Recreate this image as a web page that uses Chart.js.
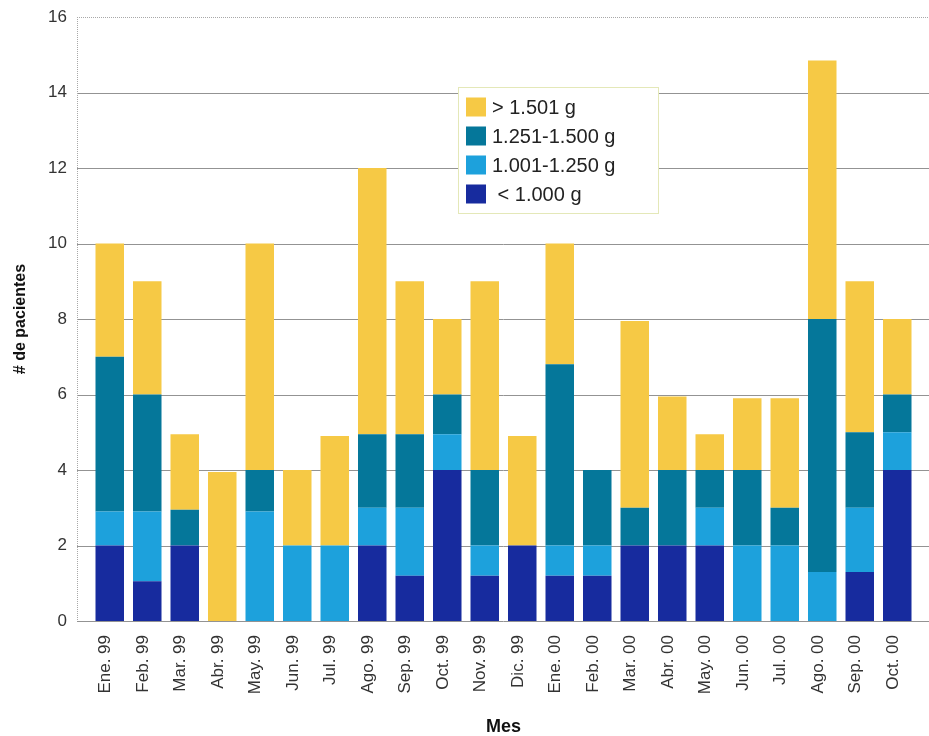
<!DOCTYPE html>
<html lang="es">
<head>
<meta charset="utf-8">
<title>Pacientes por mes</title>
<script src="https://cdn.jsdelivr.net/npm/chart.js@4.4.1/dist/chart.umd.min.js"></script>
<style>
  html, body { margin: 0; padding: 0; background: #fff; }
  #grafico { display: block; }
</style>
</head>
<body>
<canvas id="grafico" width="929" height="736"></canvas>
<script>
// Meses del periodo
const meses = ['Ene. 99', 'Feb. 99', 'Mar. 99', 'Abr. 99', 'May. 99', 'Jun. 99', 'Jul. 99',
    'Ago. 99', 'Sep. 99', 'Oct. 99', 'Nov. 99', 'Dic. 99', 'Ene. 00', 'Feb. 00', 'Mar. 00',
    'Abr. 00', 'May. 00', 'Jun. 00', 'Jul. 00', 'Ago. 00', 'Sep. 00', 'Oct. 00'];

// Pacientes por grupo de peso al nacer
const menos1000 = [2, 1.05, 2, 0, 0, 0, 0, 2, 1.2, 4, 1.2, 2, 1.2, 1.2, 2, 2, 2, 0, 0, 0, 1.3, 4];
const de1001a1250 = [0.9, 1.85, 0, 0, 2.9, 2, 2, 1, 1.8, 0.95, 0.8, 0, 0.8, 0.8, 0, 0, 1, 2, 2, 1.3, 1.7, 1];
const de1251a1500 = [4.1, 3.1, 0.95, 0, 1.1, 0, 0, 1.95, 1.95, 1.05, 2, 0, 4.8, 2, 1, 2, 1, 2, 1, 6.7, 2, 1];
const mas1501 = [3, 3, 2, 3.95, 6, 2, 2.9, 7.05, 4.05, 2, 5, 2.9, 3.2, 0, 4.95, 1.95, 0.95, 1.9, 2.9, 6.85, 4, 2];

// Marcas del eje Y
const marcasY = [0, 2, 4, 6, 8, 10, 12, 14, 16];

const fuente = "'Liberation Sans', Arial, sans-serif";

// Líneas de la rejilla, un poco más anchas que el área de barras
const rejilla = {
    id: 'rejilla',
    beforeDatasetsDraw(chart, args, opts) {
        const { ctx, chartArea: a, scales: { y } } = chart;
        const izq = a.left - opts.margen;
        const der = a.right + opts.margen;
        ctx.save();
        ctx.lineWidth = 1;
        y.ticks.forEach(t => {
            const py = Math.round(y.getPixelForValue(t.value)) + 0.5;
            ctx.strokeStyle = t.value === y.max ? opts.colorBorde : opts.color;
            ctx.setLineDash(t.value === y.max ? [1, 1] : []);
            ctx.beginPath();
            ctx.moveTo(izq, py);
            ctx.lineTo(der, py);
            ctx.stroke();
        });
        // eje vertical izquierdo
        ctx.strokeStyle = opts.colorBorde;
        ctx.setLineDash([1, 1]);
        ctx.beginPath();
        ctx.moveTo(izq + 0.5, Math.round(y.getPixelForValue(y.max)));
        ctx.lineTo(izq + 0.5, Math.round(y.getPixelForValue(0)));
        ctx.stroke();
        ctx.restore();
    }
};

// Leyenda dentro del gráfico
const leyenda = {
    id: 'leyenda',
    afterDatasetsDraw(chart, args, o) {
        const ctx = chart.ctx;
        ctx.save();
        ctx.fillStyle = '#fff';
        ctx.fillRect(o.x, o.y, o.ancho, o.alto);
        ctx.strokeStyle = o.borde;
        ctx.lineWidth = 1;
        ctx.strokeRect(o.x + 0.5, o.y + 0.5, o.ancho, o.alto);
        ctx.font = o.fuente;
        ctx.textBaseline = 'middle';
        chart.data.datasets.slice().reverse().forEach((ds, i) => {
            const cy = o.y + o.primeraFila + i * o.paso;
            ctx.fillStyle = ds.backgroundColor;
            ctx.fillRect(o.x + 8, cy - 9.5, 20, 19);
            ctx.fillStyle = '#222';
            ctx.fillText(ds.label, o.x + 34, cy + 1);
        });
        ctx.restore();
    }
};

document.addEventListener('DOMContentLoaded', function() {
    Chart.defaults.color = '#333';

    const ctx = document.getElementById('grafico').getContext('2d');
    const grafico = new Chart(ctx, {
        type: 'bar',
        data: {
            labels: meses,
            datasets: [
                { label: ' < 1.000 g', data: menos1000, backgroundColor: '#172B9E' },
                { label: '1.001-1.250 g', data: de1001a1250, backgroundColor: '#1DA1DC' },
                { label: '1.251-1.500 g', data: de1251a1500, backgroundColor: '#05779A' },
                { label: '> 1.501 g', data: mas1501, backgroundColor: '#F6C945' }
            ]
        },
        options: {
            responsive: false,
            animation: false,
            devicePixelRatio: 1,
            layout: { padding: { top: 17, right: 13, left: 0, bottom: 0 } },
            datasets: {
                bar: { barPercentage: 0.76, categoryPercentage: 1, borderWidth: 0 }
            },
            plugins: {
                legend: { display: false },
                tooltip: { enabled: false },
                rejilla: { margen: 14, color: '#939393', colorBorde: '#a8a8a8' },
                leyenda: {
                    x: 458, y: 87, ancho: 200, alto: 126,
                    primeraFila: 20, paso: 29,
                    borde: '#e4e8b8',
                    fuente: '20px ' + fuente
                }
            },
            scales: {
                x: {
                    stacked: true,
                    grid: { display: false, drawTicks: false },
                    border: { display: false },
                    ticks: {
                        maxRotation: 90,
                        minRotation: 90,
                        autoSkip: false,
                        padding: 14,
                        labelOffset: -4,
                        font: { family: fuente, size: 17 }
                    },
                    title: {
                        display: true,
                        text: 'Mes',
                        color: '#111',
                        padding: { top: 0, bottom: 0 },
                        font: { family: fuente, size: 18, weight: 'bold', lineHeight: 1 }
                    },
                    afterFit: function(scale) {
                        scale.height = 115;
                        scale.paddingLeft = 0;
                        scale.paddingRight = 0;
                    }
                },
                y: {
                    stacked: true,
                    min: 0,
                    max: 16,
                    grid: { display: false, drawTicks: false },
                    border: { display: false },
                    afterBuildTicks: function(scale) {
                        scale.ticks = marcasY.map(v => ({ value: v }));
                    },
                    ticks: {
                        padding: 24,
                        font: { family: fuente, size: 17 }
                    },
                    title: {
                        display: true,
                        text: '# de pacientes',
                        color: '#111',
                        padding: { top: 11, bottom: 0 },
                        font: { family: fuente, size: 16, weight: 'bold' }
                    },
                    afterFit: function(scale) {
                        scale.width = 91;
                        scale.paddingTop = 0;
                        scale.paddingBottom = 0;
                    }
                }
            }
        },
        plugins: [rejilla, leyenda]
    });
});
</script>
</body>
</html>
